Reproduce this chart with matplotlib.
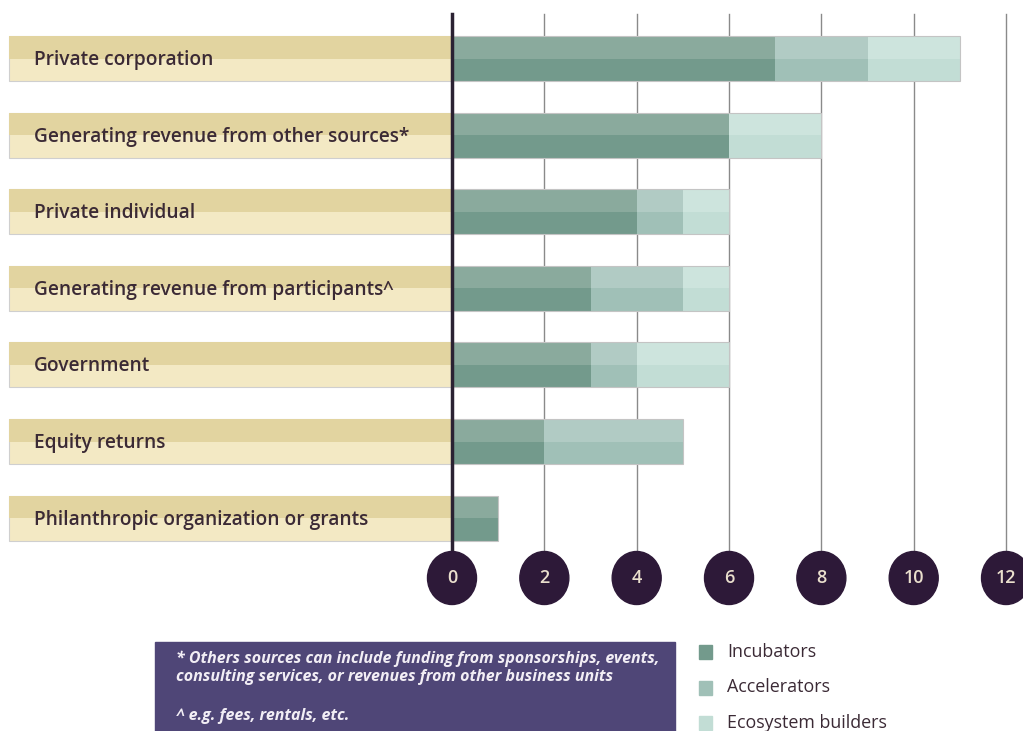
import matplotlib.pyplot as plt
from matplotlib.patches import Ellipse, Rectangle
import numpy as np

plt.rcParams['font.family'] = ['Open Sans', 'DejaVu Sans']

categories = ['Private corporation',
              'Generating revenue from other sources*',
              'Private individual',
              'Generating revenue from participants^',
              'Government',
              'Equity returns',
              'Philanthropic organization or grants']
incubators = [7, 6, 4, 3, 3, 2, 1]
accelerators = [2, 0, 1, 2, 1, 3, 0]
ecosystem = [2, 2, 1, 1, 2, 0, 0]
ticks = [0, 2, 4, 6, 8, 10, 12]
series_names = ['Incubators', 'Accelerators', 'Ecosystem builders']

# (top half, bottom half) tones per series
tones = [('#8aaa9d', '#739a8c'), ('#b1cbc4', '#a0c0b7'), ('#cde4dd', '#c2ddd5')]
band_tones = ('#e2d4a0', '#f3e9c4')
text_dark = '#3b2a35'
circle_col = '#2d1938'
note_col = '#4f4677'

fig = plt.figure(figsize=(10.23, 7.31), dpi=100)
ax = fig.add_axes([0, 0, 1, 1])
px = 46.17          # pixels per unit on the value axis
x0, row0, rowh = 452, 58.5, 76.6
ax.set_xlim(-x0 / px, (1023 - x0) / px)
ax.set_ylim((731 - row0) / rowh, -row0 / rowh)
ax.axis('off')

y = np.arange(len(categories))
h = 45 / rowh
band_left = (9 - x0) / px

# grid lines and zero axis
grid_top, grid_bot = (14 - row0) / rowh, (560 - row0) / rowh
for t in ticks[1:]:
    ax.plot([t, t], [grid_top, grid_bot], color='#8a8a8a', lw=1, zorder=1)
ax.plot([0, 0], [grid_top, grid_bot], color='#2b2233', lw=2.5, zorder=5)

# label bands
ax.barh(y, -band_left, left=band_left, height=h, color=band_tones[1],
        edgecolor='#cfcfcf', lw=0.8, zorder=2)
ax.barh(y - h / 4, -band_left, left=band_left, height=h / 2,
        color=band_tones[0], lw=0, zorder=2)
for yi, name in zip(y, categories):
    ax.text(band_left + 25 / px, yi + 0.02, name, ha='left', va='center',
            fontsize=13.8, fontweight='semibold', color=text_dark, zorder=4)

# stacked two-tone bars
left = np.zeros(len(categories))
for vals, (top, bot) in zip([incubators, accelerators, ecosystem], tones):
    vals = np.array(vals, dtype=float)
    ax.barh(y, vals, left=left, height=h, color=bot, edgecolor='none', zorder=3)
    ax.barh(y - h / 4, vals, left=left, height=h / 2, color=top, lw=0, zorder=3)
    left += vals
ax.barh(y, left, height=h, fill=False, edgecolor='#c4c4c4', lw=0.8, zorder=4)

# tick circles
cy = (578 - row0) / rowh
for t in ticks:
    ax.add_patch(Ellipse((t, cy), 49 / px, 53 / rowh, color=circle_col, zorder=6))
    ax.text(t, cy, str(t), ha='center', va='center', fontsize=13,
            fontweight='semibold', color='#eadfcd', zorder=7)

# footnote box
fig.patches.append(Rectangle((155 / 1023, 0), 520 / 1023, 89 / 731,
                             transform=fig.transFigure, color=note_col, zorder=1))
note = ('* Others sources can include funding from sponsorships, events,\n'
        'consulting services, or revenues from other business units')
fig.text(176 / 1023, 1 - 668 / 731, note, fontsize=11.5, style='italic',
         fontweight='bold', color='#f2eef5', va='center', linespacing=1.2)
fig.text(176 / 1023, 1 - 716 / 731, '^ e.g. fees, rentals, etc.', fontsize=11.5,
         style='italic', fontweight='bold', color='#f2eef5', va='center')

# legend
for i, (name, (top, bot)) in enumerate(zip(series_names, tones)):
    ly = 652 + 35.5 * i
    fig.patches.append(Rectangle((699 / 1023, 1 - (ly + 7) / 731), 13 / 1023,
                                 14 / 731, transform=fig.transFigure, color=bot))
    fig.text(727 / 1023, 1 - ly / 731, name, fontsize=12.9, color=text_dark,
             va='center')

fig.savefig('out.png', dpi=100)
